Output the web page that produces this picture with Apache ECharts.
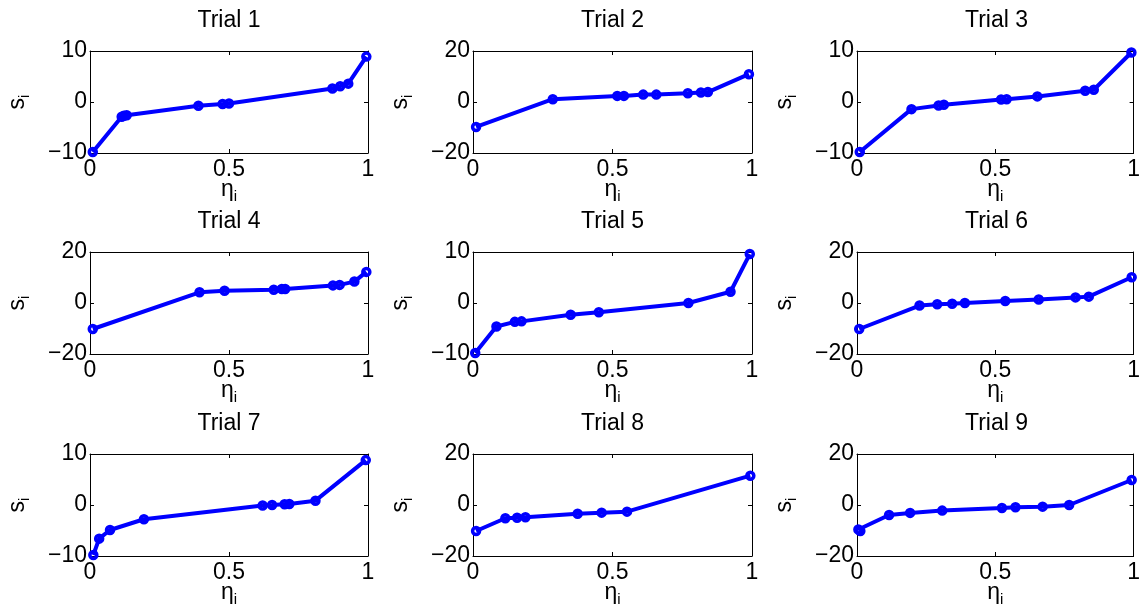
<!DOCTYPE html>
<html>
<head>
<meta charset="utf-8">
<script src="https://cdn.jsdelivr.net/npm/echarts@6/dist/echarts.min.js"></script>
<style>
  html, body { margin: 0; padding: 0; background: #fff; }
  #chart { width: 1143px; height: 609px; }
</style>
</head>
<body>
<div id="chart"></div>
<script>
// Sorted positions eta_i and corresponding values s_i for each trial
const eta1 = [0.01, 0.114, 0.122, 0.132, 0.39, 0.477, 0.5, 0.872, 0.9, 0.929, 0.994];
const s1   = [-9.8, -2.9, -2.7, -2.6, -0.75, -0.4, -0.3, 2.65, 3.1, 3.6, 8.9];

const eta2 = [0.011, 0.286, 0.517, 0.541, 0.61, 0.657, 0.77, 0.817, 0.842, 0.989];
const s2   = [-9.8, 1.1, 2.4, 2.4, 2.9, 2.9, 3.4, 3.7, 3.9, 10.9];

const eta3 = [0.01, 0.197, 0.295, 0.314, 0.521, 0.541, 0.652, 0.825, 0.856, 0.992];
const s3   = [-9.8, -1.4, -0.7, -0.55, 0.5, 0.55, 1.1, 2.2, 2.4, 9.7];

const eta4 = [0.01, 0.394, 0.484, 0.661, 0.69, 0.702, 0.874, 0.898, 0.951, 0.994];
const s4   = [-10.2, 4.2, 4.8, 5.2, 5.5, 5.5, 6.9, 7.1, 8.4, 12.2];

const eta5 = [0.008, 0.084, 0.15, 0.174, 0.35, 0.451, 0.772, 0.923, 0.992];
const s5   = [-9.8, -4.6, -3.7, -3.6, -2.3, -1.8, 0, 2.2, 9.6];

const eta6 = [0.008, 0.226, 0.29, 0.344, 0.39, 0.536, 0.657, 0.79, 0.838, 0.993];
const s6   = [-10.2, -1.0, -0.5, -0.3, 0, 0.8, 1.4, 2.2, 2.5, 10.1];

const eta7 = [0.012, 0.033, 0.072, 0.194, 0.621, 0.655, 0.7, 0.717, 0.811, 0.992];
const s7   = [-9.8, -6.6, -4.9, -2.8, -0.1, 0, 0.15, 0.2, 0.85, 8.8];

const eta8 = [0.011, 0.116, 0.158, 0.188, 0.375, 0.461, 0.552, 0.994];
const s8   = [-10.2, -5.2, -5.0, -4.8, -3.4, -3.0, -2.6, 11.5];

const eta9 = [0.005, 0.012, 0.116, 0.192, 0.308, 0.524, 0.573, 0.671, 0.767, 0.993];
const s9   = [-9.6, -10.2, -3.9, -3.1, -2.2, -1.2, -0.9, -0.65, 0, 9.8];

const trialTitles = ['Trial 1', 'Trial 2', 'Trial 3', 'Trial 4', 'Trial 5',
                     'Trial 6', 'Trial 7', 'Trial 8', 'Trial 9'];
// symmetric limit of the s axis per trial (ticks at -lim, 0, lim)
const sLimits = [10, 20, 10, 20, 10, 20, 10, 20, 20];
// eta axis: 0 .. 1, ticks every 0.5
const etaMin = 0, etaMax = 1, etaStep = 0.5;

const etaLists = [eta1, eta2, eta3, eta4, eta5, eta6, eta7, eta8, eta9];
const sLists = [s1, s2, s3, s4, s5, s6, s7, s8, s9];

// 3x3 subplot layout (pixels)
const colLeft = [90, 473, 857];
const colWidth = [278, 279, 279];
const rowTop = [51, 252, 454];
const rowHeight = 102;

const FONT = '"Liberation Sans", Arial, Helvetica, sans-serif';
const BLUE = '#0000ff';

const fmtNum = v => (v < 0 ? '\u2212' + Math.abs(v) : String(v));

const grids = [], xAxes = [], yAxes = [], titles = [], series = [];

for (let i = 0; i < 9; i++) {
  const r = Math.floor(i / 3), c = i % 3;
  const lim = sLimits[i];
  grids.push({ left: colLeft[c], top: rowTop[r], width: colWidth[c], height: rowHeight,
               containLabel: false, show: false });

  titles.push({
    text: trialTitles[i],
    left: colLeft[c] + colWidth[c] / 2,
    top: rowTop[r] - 42,
    textAlign: 'center',
    padding: 0,
    textStyle: { fontFamily: FONT, fontSize: 23, fontWeight: 'normal', color: '#000' }
  });

  // box edges: axis lines stay on the grid border, never at zero
  const boxLine = { show: true, onZero: false, lineStyle: { color: '#000', width: 1 } };
  const tick = { show: true, inside: true, length: 4, lineStyle: { color: '#000', width: 1 } };

  // bottom eta axis with labels; its name sits tight under the tick labels
  xAxes.push({
    type: 'value', gridIndex: i, position: 'bottom',
    min: etaMin, max: etaMax, interval: etaStep,
    axisLine: boxLine, axisTick: tick, splitLine: { show: false },
    axisLabel: { show: true, margin: 5, fontFamily: FONT, fontSize: 23, color: '#000',
                 formatter: fmtNum },
    name: '{m|\u03b7}{s|i}', nameLocation: 'middle', nameGap: 22,
    nameMoveOverlap: false,
    nameTextStyle: { fontFamily: FONT, color: '#000',
      rich: { m: { fontFamily: FONT, fontSize: 23, color: '#000' },
              s: { fontFamily: FONT, fontSize: 15, color: '#000', padding: [14, 0, 0, 0] } } }
  });
  // top mirror axis (ticks only)
  xAxes.push({
    type: 'value', gridIndex: i, position: 'top',
    min: etaMin, max: etaMax, interval: etaStep,
    axisLine: boxLine, axisTick: tick, splitLine: { show: false },
    axisLabel: { show: false }
  });
  // left s axis with labels
  yAxes.push({
    type: 'value', gridIndex: i, position: 'left',
    min: -lim, max: lim, interval: lim,
    axisLine: boxLine, axisTick: tick, splitLine: { show: false },
    axisLabel: { show: true, margin: 3, fontFamily: FONT, fontSize: 23, color: '#000',
                 formatter: fmtNum },
    name: '{m|s}{s|i}', nameLocation: 'middle', nameGap: 58, nameRotate: 90,
    nameMoveOverlap: false,
    nameTextStyle: { fontFamily: FONT, color: '#000',
      rich: { m: { fontFamily: FONT, fontSize: 23, color: '#000' },
              s: { fontFamily: FONT, fontSize: 15, color: '#000', padding: [14, 0, 0, 0] } } }
  });
  // right mirror axis (ticks only)
  yAxes.push({
    type: 'value', gridIndex: i, position: 'right',
    min: -lim, max: lim, interval: lim,
    axisLine: boxLine, axisTick: tick, splitLine: { show: false },
    axisLabel: { show: false }
  });

  series.push({
    type: 'line',
    name: trialTitles[i],
    xAxisIndex: 2 * i, yAxisIndex: 2 * i,
    data: etaLists[i].map((e, k) => [e, sLists[i][k]]),
    lineStyle: { color: BLUE, width: 4 },
    symbol: 'circle', symbolSize: 7, showSymbol: true,
    itemStyle: { color: 'rgba(255,255,255,0)', borderColor: BLUE, borderWidth: 3.5 },
    emphasis: { disabled: true },
    clip: false,
    z: 3
  });
}

const chart = echarts.init(document.getElementById('chart'), null, { renderer: 'canvas' });
chart.setOption({
  animation: false,
  backgroundColor: '#fff',
  title: titles,
  grid: grids,
  xAxis: xAxes,
  yAxis: yAxes,
  series: series
});
</script>
</body>
</html>
